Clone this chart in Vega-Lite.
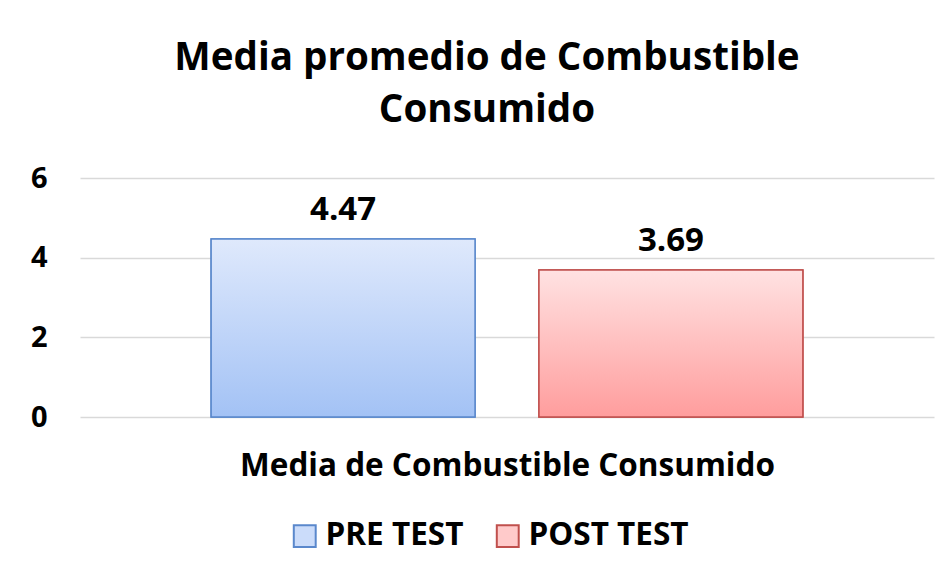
{
  "$schema": "https://vega.github.io/schema/vega-lite/v6.json",
  "autosize": {"type": "none"},
  "width": 854,
  "height": 239,
  "padding": {"left": 80, "top": 178, "right": 17, "bottom": 159},
  "background": "white",
  "title": {
    "text": ["Media promedio de Combustible", "Consumido"],
    "font": "Open Sans",
    "fontSize": 38.6,
    "fontWeight": "bold",
    "color": "#000000",
    "anchor": "middle",
    "frame": "group",
    "dx": -20,
    "offset": 33,
    "lineHeight": 52
  },
  "data": {
    "values": [
      {"categoria": "Media de Combustible Consumido", "serie": "PRE TEST", "valor": 4.47},
      {"categoria": "Media de Combustible Consumido", "serie": "POST TEST", "valor": 3.69}
    ]
  },
  "encoding": {
    "x": {
      "field": "serie",
      "type": "nominal",
      "sort": ["PRE TEST", "POST TEST"],
      "scale": {"paddingInner": 0.195, "paddingOuter": 0.4},
      "axis": {
        "title": "Media de Combustible Consumido",
        "labels": false,
        "ticks": false,
        "domain": false,
        "titleFont": "Open Sans",
        "titleFontSize": 31.5,
        "titleFontWeight": "bold",
        "titleColor": "#000000",
        "titlePadding": 33,
        "titleX": 427
      }
    },
    "y": {
      "field": "valor",
      "type": "quantitative",
      "scale": {"domain": [0, 6]},
      "axis": {
        "title": null,
        "values": [0, 2, 4, 6],
        "ticks": false,
        "domain": false,
        "labelFont": "Open Sans",
        "labelFontSize": 29,
        "labelFontWeight": "bold",
        "labelColor": "#000000",
        "labelPadding": 33,
        "gridColor": "#d9d9d9",
        "gridWidth": 1.5
      }
    }
  },
  "layer": [
    {
      "mark": {"type": "bar", "strokeWidth": 1.5},
      "encoding": {
        "fill": {
          "field": "serie",
          "type": "nominal",
          "scale": {"domain": ["PRE TEST", "POST TEST"], "range": ["#cbdcfa", "#ffcaca"]},
          "legend": {
            "title": null,
            "orient": "none",
            "legendX": 209,
            "legendY": 342,
            "direction": "horizontal",
            "symbolType": "square",
            "symbolSize": 480,
            "symbolStrokeWidth": 2,
            "labelFont": "Open Sans",
            "labelFontSize": 31.5,
            "labelFontWeight": "bold",
            "labelColor": "#000000",
            "labelLimit": 400,
            "columnPadding": 28,
            "labelOffset": 5
          }
        },
        "stroke": {
          "field": "serie",
          "type": "nominal",
          "scale": {"domain": ["PRE TEST", "POST TEST"], "range": ["#5a88cc", "#c0504d"]},
          "legend": null
        }
      }
    },
    {
      "transform": [{"filter": "datum.serie === 'PRE TEST'"}],
      "mark": {
        "type": "bar",
        "strokeWidth": 1.5,
        "stroke": "#5a88cc",
        "fill": {"gradient": "linear", "x1": 0, "y1": 0, "x2": 0, "y2": 1, "stops": [{"offset": 0, "color": "#dfe9fc"}, {"offset": 1, "color": "#a3c2f5"}]}
      }
    },
    {
      "transform": [{"filter": "datum.serie === 'POST TEST'"}],
      "mark": {
        "type": "bar",
        "strokeWidth": 1.5,
        "stroke": "#c0504d",
        "fill": {"gradient": "linear", "x1": 0, "y1": 0, "x2": 0, "y2": 1, "stops": [{"offset": 0, "color": "#ffe2e2"}, {"offset": 1, "color": "#ff9d9d"}]}
      }
    },
    {
      "mark": {"type": "text", "baseline": "bottom", "dy": -12, "font": "Open Sans", "fontSize": 33, "fontWeight": "bold", "color": "#000000"},
      "encoding": {
        "text": {"field": "valor", "type": "quantitative", "format": ".2f"}
      }
    }
  ],
  "config": {
    "view": {"stroke": null}
  }
}
